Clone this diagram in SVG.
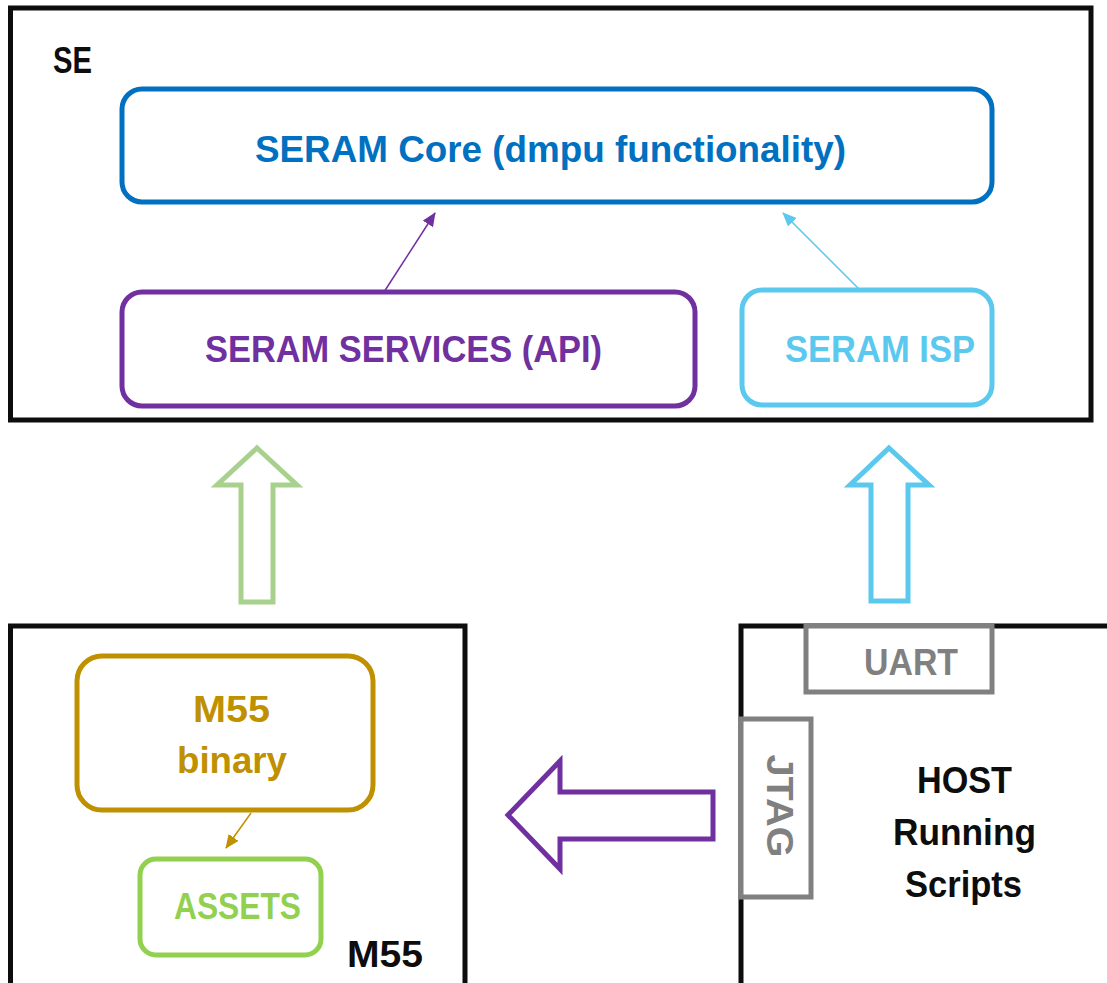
<svg xmlns="http://www.w3.org/2000/svg" width="1107" height="983" viewBox="0 0 1107 983">
<style>
  text { font-family: "Liberation Sans", Arial, sans-serif; font-weight: bold; font-size: 36px; }
  .frame { fill: none; stroke: #0d0d0d; stroke-width: 5; }
  .box { fill: #ffffff; stroke-width: 5; }
  .gray { fill: #ffffff; stroke: #808080; stroke-width: 5; }
  .big { fill: none; stroke-width: 5; stroke-linejoin: miter; }
</style>
<defs>
  <marker id="mPurple" viewBox="0 0 14 12" refX="13" refY="6" markerWidth="14" markerHeight="12" orient="auto" markerUnits="userSpaceOnUse">
    <path d="M0,0 L14,6 L0,12 Z" fill="#7030A0"/>
  </marker>
  <marker id="mCyan" viewBox="0 0 14 12" refX="13" refY="6" markerWidth="14" markerHeight="12" orient="auto" markerUnits="userSpaceOnUse">
    <path d="M0,0 L14,6 L0,12 Z" fill="#5BC8EE"/>
  </marker>
  <marker id="mGold" viewBox="0 0 14 12" refX="13" refY="6" markerWidth="14" markerHeight="12" orient="auto" markerUnits="userSpaceOnUse">
    <path d="M0,0 L14,6 L0,12 Z" fill="#BF9000"/>
  </marker>
</defs>
<rect width="1107" height="983" fill="#ffffff"/>

<g id="SE">
  <rect class="frame" x="10.5" y="8" width="1080.5" height="412"/>
  <text x="53" y="73" textLength="39" lengthAdjust="spacingAndGlyphs" fill="#0d0d0d">SE</text>
</g>
<g id="core">
  <rect class="box" x="122" y="89" width="870" height="113" rx="20" stroke="#0070C0"/>
  <text x="255" y="162" textLength="591" lengthAdjust="spacingAndGlyphs" fill="#0070C0" font-size="40">SERAM Core (dmpu functionality)</text>
</g>
<g id="services">
  <rect class="box" x="122" y="292" width="573" height="114" rx="20" stroke="#7030A0"/>
  <text x="205" y="362" textLength="397" lengthAdjust="spacingAndGlyphs" fill="#7030A0" font-size="37">SERAM SERVICES (API)</text>
</g>
<g id="isp">
  <rect class="box" x="742" y="290" width="250" height="115" rx="20" stroke="#5BC8EE"/>
  <text x="785" y="362" textLength="190" lengthAdjust="spacingAndGlyphs" fill="#5BC8EE" font-size="37">SERAM ISP</text>
</g>

<g id="M55">
  <path class="frame" d="M10.5,990 V626 H465 V990"/>
  <text x="347" y="967" textLength="76" lengthAdjust="spacingAndGlyphs" fill="#0d0d0d">M55</text>
</g>
<g id="m55binary">
  <rect class="box" x="77" y="656" width="296" height="154" rx="25" stroke="#BF9000"/>
  <text x="193" y="722" textLength="77" lengthAdjust="spacingAndGlyphs" fill="#BF9000">M55</text>
  <text x="177" y="773" textLength="110" lengthAdjust="spacingAndGlyphs" fill="#BF9000">binary</text>
</g>
<g id="assets">
  <rect class="box" x="140" y="859" width="181" height="96" rx="16" stroke="#92D050"/>
  <text x="174" y="919" textLength="127" lengthAdjust="spacingAndGlyphs" fill="#92D050">ASSETS</text>
</g>

<g id="HOST">
  <path class="frame" d="M741,990 V626 H1110"/>
  <text x="917" y="793" textLength="95" lengthAdjust="spacingAndGlyphs" fill="#0d0d0d">HOST</text>
  <text x="893" y="845" textLength="143" lengthAdjust="spacingAndGlyphs" fill="#0d0d0d">Running</text>
  <text x="905" y="897" textLength="117" lengthAdjust="spacingAndGlyphs" fill="#0d0d0d">Scripts</text>
</g>
<g id="uart">
  <rect class="gray" x="806" y="626" width="186" height="66"/>
  <text x="864" y="675" textLength="94" lengthAdjust="spacingAndGlyphs" fill="#808080">UART</text>
</g>
<g id="jtag">
  <rect class="gray" x="741" y="719" width="70" height="178"/>
  <text transform="translate(767,806) rotate(90)" x="0" y="0" text-anchor="middle" textLength="103" lengthAdjust="spacingAndGlyphs" fill="#808080" font-size="42">JTAG</text>
</g>

<g id="connectors">
  <line x1="384" y1="292" x2="435" y2="213" stroke="#7030A0" stroke-width="1.5" marker-end="url(#mPurple)"/>
  <line x1="862" y1="292" x2="783" y2="213" stroke="#5BC8EE" stroke-width="1.5" marker-end="url(#mCyan)"/>
  <line x1="251" y1="813" x2="226" y2="848" stroke="#BF9000" stroke-width="1.5" marker-end="url(#mGold)"/>
  <path class="big" stroke="#A9D18E" d="M257,448 L297,485 L273,485 L273,602 L241,602 L241,485 L217,485 Z"/>
  <path class="big" stroke="#5BC8EE" d="M889,448 L929,485 L908,485 L908,601 L871,601 L871,485 L850,485 Z"/>
  <path class="big" stroke="#7030A0" d="M508,815 L560,761 L560,792 L713,792 L713,839 L560,839 L560,869 Z"/>
</g>
</svg>
